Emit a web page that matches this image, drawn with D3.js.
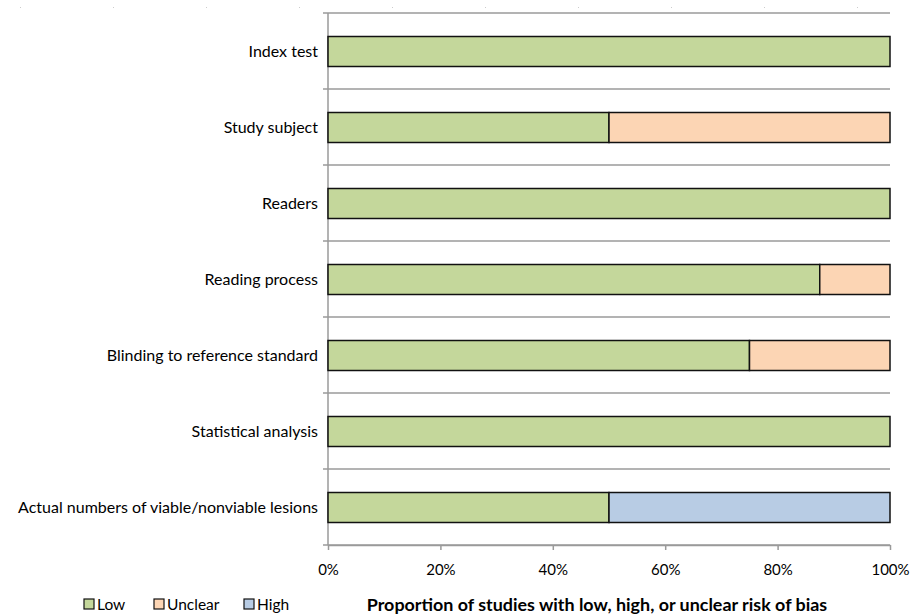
<!DOCTYPE html>
<html><head><meta charset="utf-8">
<script src="https://cdn.jsdelivr.net/npm/d3@7"></script>
<style>body{margin:0;background:#fff;} svg{display:block;}</style>
</head><body>
<svg id="c" width="912" height="616"></svg>
<script>
const categories = ["Index test","Study subject","Readers","Reading process","Blinding to reference standard","Statistical analysis","Actual numbers of viable/nonviable lesions"];
const lowValues = [100,50,100,87.5,75,100,50];
const unclearValues = [0,50,0,12.5,25,0,0];
const highValues = [0,0,0,0,0,0,50];
const seriesNames = ["Low","Unclear","High"];
const seriesColors = ["#c4d79b","#fcd5b4","#b8cce4"];
const xTicks = [0,20,40,60,80,100];

const svg = d3.select("#c");
const font = "Lato, 'Open Sans', sans-serif";
const m = {left:328, right:890, top:13, bottom:545};
const x = d3.scaleLinear().domain([0,100]).range([m.left, m.right]);
const y = d3.scaleBand().domain(categories).range([m.top, m.bottom]).paddingInner(0).paddingOuter(0);

const rows = categories.map((c,i)=>({cat:c, vals:[lowValues[i],unclearValues[i],highValues[i]]}));
const stackData = rows.map(r=>{let acc=0; return r.vals.map((v,k)=>{const s={cat:r.cat,k,x0:acc,x1:acc+v}; acc+=v; return s;}).filter(d=>d.x1>d.x0);});

// faint dots at top
svg.selectAll(".dot").data(d3.range(10)).join("rect")
  .attr("x",d=>20+d*93).attr("y",7).attr("width",1).attr("height",1).attr("fill","#ccc");

// category separators
const seps = categories.map(c=>y(c)).concat([m.bottom]);
svg.selectAll(".sep").data(seps).join("line")
  .attr("x1",m.left-5).attr("x2",m.right).attr("y1",d=>d).attr("y2",d=>d)
  .attr("stroke","#9a9a9a").attr("stroke-width",1.5);

// left axis line
svg.append("line").attr("x1",m.left).attr("x2",m.left).attr("y1",m.top).attr("y2",m.bottom)
  .attr("stroke","#9a9a9a").attr("stroke-width",1.5);

// bottom axis
const xAxis = d3.axisBottom(x).tickValues(xTicks).tickFormat(d=>d+"%").tickSize(5).tickSizeOuter(0);
const gx = svg.append("g").attr("transform",`translate(0,${m.bottom})`).call(xAxis);
gx.select(".domain").attr("stroke","#9a9a9a").attr("stroke-width",1.5);
gx.selectAll(".tick line").attr("stroke","#9a9a9a").attr("stroke-width",1.5);
gx.selectAll(".tick text").attr("font-family",font).attr("font-size",15).attr("fill","#000").attr("dy","1.45em");

// bars
const barH = 30;
svg.selectAll(".row").data(stackData).join("g").selectAll("rect").data(d=>d).join("rect")
  .attr("x",d=>x(d.x0)).attr("width",d=>x(d.x1)-x(d.x0))
  .attr("y",d=>y(d.cat)+y.bandwidth()/2-barH/2+0.5).attr("height",barH)
  .attr("fill",d=>seriesColors[d.k]).attr("stroke","#111").attr("stroke-width",1.5);

// category labels
svg.selectAll(".cl").data(categories).join("text")
  .attr("x",m.left-10).attr("y",c=>y(c)+y.bandwidth()/2).attr("dy","0.35em")
  .attr("text-anchor","end").attr("font-family",font).attr("font-size",16).attr("fill","#000").text(c=>c);

// axis title
svg.append("text").attr("x",597).attr("y",611).attr("text-anchor","middle")
  .attr("font-family",font).attr("font-size",17.9).attr("font-weight","bold").attr("fill","#000")
  .text("Proportion of studies with low, high, or unclear risk of bias");

// legend
const legX = [84,154,244];
const lg = svg.selectAll(".lg").data(seriesNames).join("g").attr("transform",(d,i)=>`translate(${legX[i]},599)`);
lg.append("rect").attr("width",10).attr("height",10).attr("fill",(d,i)=>seriesColors[i]).attr("stroke","#111").attr("stroke-width",1.2);
lg.append("text").attr("x",13).attr("y",11).attr("font-family",font).attr("font-size",15.5).attr("fill","#000").text(d=>d);
</script>
</body></html>
